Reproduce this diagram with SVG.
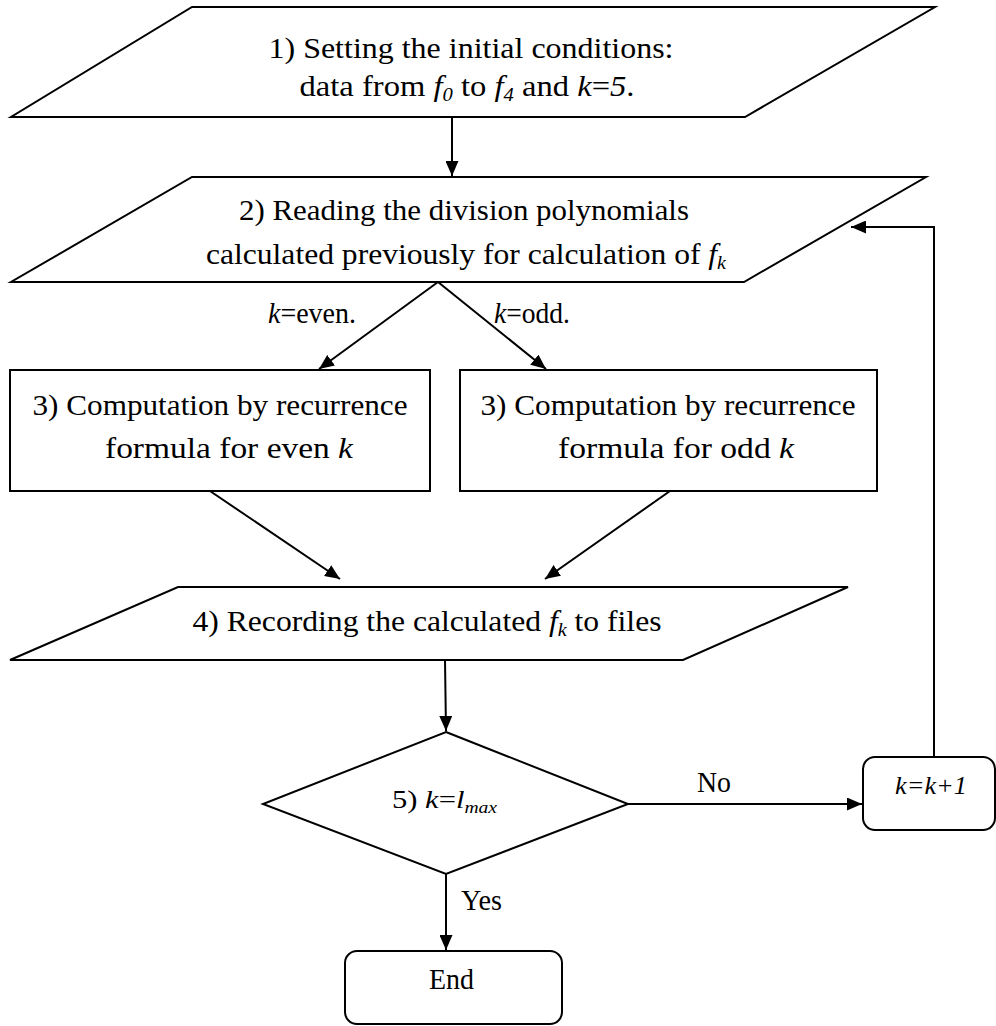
<svg xmlns="http://www.w3.org/2000/svg" width="996" height="1026" viewBox="0 0 996 1026">
<defs>
<marker id="ah" viewBox="0 0 15 13" refX="15" refY="6.5" markerWidth="15" markerHeight="13" markerUnits="userSpaceOnUse" orient="auto">
<path d="M0,0 L15,6.5 L0,13 Z" fill="#000"/>
</marker>
<style>
.s{fill:#fff;stroke:#000;stroke-width:2;stroke-linejoin:miter}
.c{fill:none;stroke:#000;stroke-width:2;marker-end:url(#ah)}
text{font-family:"Liberation Serif","Times New Roman",serif;font-size:30px;fill:#000}
.m{text-anchor:middle}
.i{font-style:italic}
.sb{font-size:19px;font-style:italic}
.sm{font-size:25px}
.sbs{font-size:16px;font-style:italic}
</style>
</defs>
<rect width="996" height="1026" fill="#fff"/>
<g id="n1">
<polygon class="s" points="192,7 935,7 745,117 11,117"/>
<text class="m" x="471" y="58" textLength="405" lengthAdjust="spacingAndGlyphs">1) Setting the initial conditions:</text>
<text class="m" x="467" y="96" textLength="335" lengthAdjust="spacingAndGlyphs">data from <tspan class="i">f</tspan><tspan class="sb" dy="5">0</tspan><tspan dy="-5"> to </tspan><tspan class="i">f</tspan><tspan class="sb" dy="5">4</tspan><tspan dy="-5"> and </tspan><tspan class="i">k</tspan>=<tspan class="i">5</tspan>.</text>
</g>
<g id="n2">
<polygon class="s" points="192,177 926,177 744,282 11,282"/>
<text class="m" x="464" y="220" textLength="450" lengthAdjust="spacingAndGlyphs">2) Reading the division polynomials</text>
<text class="m" x="466" y="264" textLength="520" lengthAdjust="spacingAndGlyphs">calculated previously for calculation of <tspan class="i">f</tspan><tspan class="sb" dy="5">k</tspan></text>
</g>
<g id="n3a">
<rect class="s" x="10" y="370" width="420" height="121"/>
<text class="m" x="220" y="415" textLength="375" lengthAdjust="spacingAndGlyphs">3) Computation by recurrence</text>
<text class="m" x="229" y="458" textLength="248" lengthAdjust="spacingAndGlyphs">formula for even <tspan class="i">k</tspan></text>
</g>
<g id="n3b">
<rect class="s" x="460" y="370" width="417" height="121"/>
<text class="m" x="668" y="415" textLength="375" lengthAdjust="spacingAndGlyphs">3) Computation by recurrence</text>
<text class="m" x="676" y="458" textLength="236" lengthAdjust="spacingAndGlyphs">formula for odd <tspan class="i">k</tspan></text>
</g>
<g id="n4">
<polygon class="s" points="178,587 848,587 683,660 10,660"/>
<text class="m" x="427" y="631" textLength="469" lengthAdjust="spacingAndGlyphs">4) Recording the calculated <tspan class="i">f</tspan><tspan class="sb" dy="5">k</tspan><tspan dy="-5"> to files</tspan></text>
</g>
<g id="n5">
<polygon class="s" points="446,732 628,804 446,874 263,804"/>
<text class="sm" x="392" y="808" textLength="105" lengthAdjust="spacingAndGlyphs">5) <tspan class="i">k</tspan>=<tspan class="i">l</tspan><tspan class="sbs" dy="5">max</tspan></text>
</g>
<g id="n6">
<rect class="s" x="863" y="757" width="132" height="73" rx="12"/>
<text class="i sm" x="895" y="794" textLength="72" lengthAdjust="spacingAndGlyphs">k=k+1</text>
</g>
<g id="n7">
<rect class="s" x="345" y="951" width="217" height="73" rx="12"/>
<text x="429" y="989" textLength="45" lengthAdjust="spacingAndGlyphs">End</text>
</g>
<g id="connectors">
<line class="c" x1="452" y1="117" x2="452" y2="176"/>
<line class="c" x1="438" y1="282" x2="319" y2="369"/>
<line class="c" x1="438" y1="282" x2="546" y2="369"/>
<line class="c" x1="210" y1="491" x2="340" y2="579"/>
<line class="c" x1="670" y1="491" x2="545" y2="579"/>
<line class="c" x1="445" y1="660" x2="446" y2="731"/>
<line class="c" x1="628" y1="804" x2="862" y2="804"/>
<polyline class="c" points="934,757 934,227 851,227"/>
<line class="c" x1="446" y1="874" x2="446" y2="950"/>
<text x="268" y="323" textLength="88" lengthAdjust="spacingAndGlyphs"><tspan class="i">k</tspan>=even.</text>
<text x="494" y="323" textLength="76" lengthAdjust="spacingAndGlyphs"><tspan class="i">k</tspan>=odd.</text>
<text x="697" y="792" textLength="34" lengthAdjust="spacingAndGlyphs">No</text>
<text x="461" y="910" textLength="41" lengthAdjust="spacingAndGlyphs">Yes</text>
</g>
</svg>
